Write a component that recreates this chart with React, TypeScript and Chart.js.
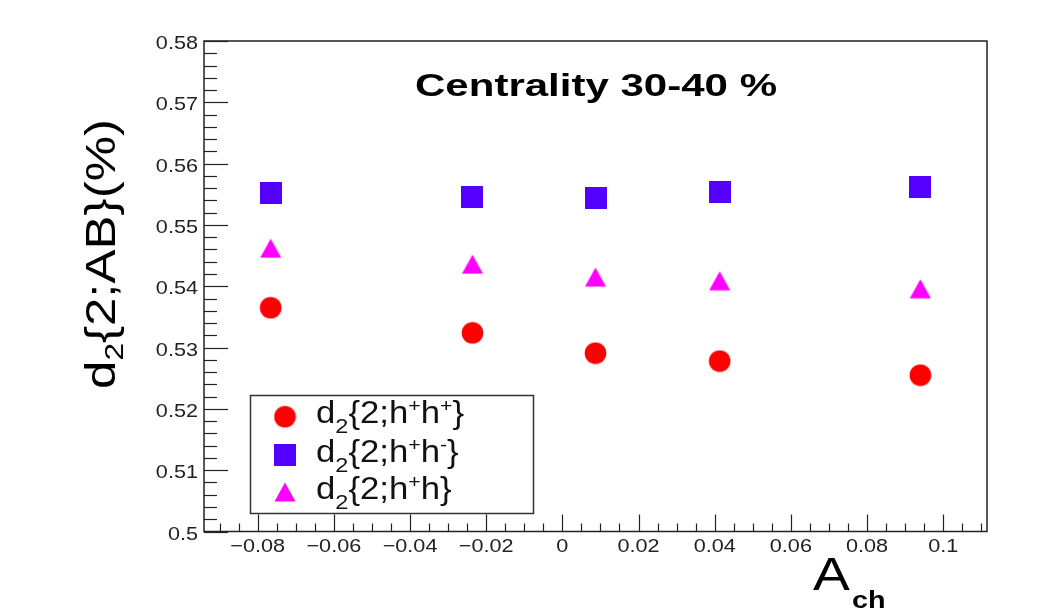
import { useEffect, useRef } from "react";
import { Chart, registerables } from "chart.js";

Chart.register(...registerables);

// ---- data ----
const aCh = [-0.0766, -0.0236, 0.0087, 0.0413, 0.094];
const d2PlusPlus = [0.5365, 0.5324, 0.5291, 0.5278, 0.5255];
const d2PlusMinus = [0.5552, 0.5546, 0.5544, 0.5554, 0.5562];
const d2PlusAll = [0.5462, 0.5436, 0.5415, 0.5409, 0.5396];

const xTickValues = [-0.08, -0.06, -0.04, -0.02, 0, 0.02, 0.04, 0.06, 0.08, 0.1];
const xTickLabels = ["−0.08", "−0.06", "−0.04", "−0.02", "0", "0.02", "0.04", "0.06", "0.08", "0.1"];
const yTickValues = [0.5, 0.51, 0.52, 0.53, 0.54, 0.55, 0.56, 0.57, 0.58];
const yTickLabels = ["0.5", "0.51", "0.52", "0.53", "0.54", "0.55", "0.56", "0.57", "0.58"];

const xMin = -0.0941;
const xMax = 0.1115;
const yMin = 0.5;
const yMax = 0.58;

const titleText = "Centrality 30-40 %";
const seriesNames = ["d2{2;h+h+}", "d2{2;h+h-}", "d2{2;h+h}"];

const COL_RED = "#ff0000";
const COL_BLUE = "#5300ff";
const COL_MAG = "#ff00ff";

const FONT = '"Liberation Sans", Arial, Helvetica, sans-serif';

type Part = { t: string; size: number; bold?: boolean; dy?: number };

function fontOf(p: Part) {
  return `${p.bold ? "bold " : ""}${p.size}px ${FONT}`;
}

function richWidth(ctx: CanvasRenderingContext2D, parts: Part[]) {
  let w = 0;
  for (const p of parts) {
    ctx.font = fontOf(p);
    w += ctx.measureText(p.t).width;
  }
  return w;
}

function drawRich(ctx: CanvasRenderingContext2D, parts: Part[], x: number, y: number, sx: number) {
  ctx.save();
  ctx.translate(x, y);
  ctx.scale(sx, 1);
  ctx.textAlign = "left";
  ctx.textBaseline = "alphabetic";
  let cx = 0;
  for (const p of parts) {
    ctx.font = fontOf(p);
    ctx.fillText(p.t, cx, p.dy || 0);
    cx += ctx.measureText(p.t).width;
  }
  ctx.restore();
}

function legendParts(i: number): Part[] {
  const M = 31;
  const base: Part[] = [
    { t: "d", size: M },
    { t: "2", size: 21, dy: 10 },
    { t: "{2;h", size: M },
    { t: "+", size: 19, dy: -11 },
  ];
  if (i === 0) return [...base, { t: "h", size: M }, { t: "+", size: 19, dy: -11 }, { t: "}", size: M }];
  if (i === 1) return [...base, { t: "h", size: M }, { t: "-", size: 19, dy: -11 }, { t: "}", size: M }];
  return [...base, { t: "h}", size: M }];
}

function makeMarker(kind: "circle" | "square" | "triangle", color: string) {
  const c = document.createElement("canvas");
  const ctx = c.getContext("2d")!;
  if (kind === "circle") {
    c.width = 23;
    c.height = 23;
    ctx.fillStyle = color;
    ctx.beginPath();
    ctx.arc(11.5, 11.5, 10.8, 0, Math.PI * 2);
    ctx.fill();
  } else if (kind === "square") {
    c.width = 22;
    c.height = 22;
    ctx.fillStyle = color;
    ctx.fillRect(0, 0, 22, 22);
  } else {
    c.width = 22;
    c.height = 20;
    ctx.fillStyle = color;
    ctx.beginPath();
    ctx.moveTo(11, 0.5);
    ctx.lineTo(21.5, 19.5);
    ctx.lineTo(0.5, 19.5);
    ctx.closePath();
    ctx.fill();
  }
  return c;
}

export default function App() {
  const ref = useRef<HTMLCanvasElement | null>(null);

  useEffect(() => {
    if (!ref.current) return;
    const mCircle = makeMarker("circle", COL_RED);
    const mSquare = makeMarker("square", COL_BLUE);
    const mTri = makeMarker("triangle", COL_MAG);
    const markers = [mCircle, mSquare, mTri];

    const rootStyle = {
      id: "rootStyle",
      afterDraw(chart: any) {
        const ctx: CanvasRenderingContext2D = chart.ctx;
        const xs = chart.scales.x;
        const ys = chart.scales.y;
        const { left, right, top, bottom } = chart.chartArea;
        ctx.save();

        // frame
        ctx.strokeStyle = "#222";
        ctx.lineWidth = 1.5;
        ctx.strokeRect(left, top, right - left, bottom - top);

        // x ticks (inside)
        ctx.lineWidth = 1.2;
        ctx.strokeStyle = "#222";
        const kx0 = Math.ceil(xMin / 0.005 - 1e-9);
        const kx1 = Math.floor(xMax / 0.005 + 1e-9);
        for (let k = kx0; k <= kx1; k++) {
          const v = k * 0.005;
          const px = Math.round(xs.getPixelForValue(v)) + 0.5;
          const len = k % 4 === 0 ? 17 : 8;
          ctx.beginPath();
          ctx.moveTo(px, bottom);
          ctx.lineTo(px, bottom - len);
          ctx.stroke();
        }
        // y ticks (inside)
        const ky0 = Math.round(yMin / 0.002);
        const ky1 = Math.round(yMax / 0.002);
        for (let k = ky0; k <= ky1; k++) {
          const v = k * 0.002;
          const py = Math.round(ys.getPixelForValue(v)) + 0.5;
          const len = k % 5 === 0 ? 24 : 13;
          ctx.beginPath();
          ctx.moveTo(left, py);
          ctx.lineTo(left + len, py);
          ctx.stroke();
        }

        // tick labels
        ctx.fillStyle = "#222";
        const tickSize = 18.5;
        const tsx = 1.17;
        ctx.font = `${tickSize}px ${FONT}`;
        xTickValues.forEach((v, i) => {
          const lab = xTickLabels[i];
          const px = xs.getPixelForValue(v);
          const w = richWidth(ctx, [{ t: lab, size: tickSize }]) * tsx;
          drawRich(ctx, [{ t: lab, size: tickSize }], px - w / 2, bottom + 20.5, tsx);
        });
        yTickValues.forEach((v, i) => {
          const lab = yTickLabels[i];
          const py = ys.getPixelForValue(v);
          const w = richWidth(ctx, [{ t: lab, size: tickSize }]) * tsx;
          drawRich(ctx, [{ t: lab, size: tickSize }], left - 6 - w, py + 8, tsx);
        });

        // title
        ctx.fillStyle = "#000";
        const tParts: Part[] = [{ t: titleText, size: 32, bold: true }];
        const tw = richWidth(ctx, tParts);
        drawRich(ctx, tParts, 415, 95.5, 362 / tw);

        // x axis title: A_ch
        drawRich(ctx, [{ t: "A", size: 46 }], 813, 590, 1.2);
        drawRich(ctx, [{ t: "ch", size: 23, bold: true }], 852, 608, 1.25);

        // y axis title: d_2{2;AB}(%)
        const yParts: Part[] = [
          { t: "d", size: 42 },
          { t: "2", size: 26, dy: 8 },
          { t: "{2;AB}(%)", size: 42 },
        ];
        const yw = richWidth(ctx, yParts);
        ctx.save();
        ctx.translate(115, 389);
        ctx.rotate(-Math.PI / 2);
        drawRich(ctx, yParts, 0, 0, 270 / yw);
        ctx.restore();

        // legend box
        ctx.fillStyle = "#fff";
        ctx.fillRect(250, 395, 283, 118);
        ctx.strokeStyle = "#333";
        ctx.lineWidth = 1.5;
        ctx.strokeRect(250.5, 395.5, 283, 118);
        const rows = [416.7, 455, 492];
        const w0 = richWidth(ctx, legendParts(0));
        const lsx = 148 / w0;
        ctx.fillStyle = "#111";
        rows.forEach((ry, i) => {
          const m = markers[i];
          ctx.drawImage(m, 285 - m.width / 2, ry - m.height / 2);
          ctx.fillStyle = "#111";
          drawRich(ctx, legendParts(i), 316, ry + 6.7, lsx);
        });

        ctx.restore();
      },
    };

    const mk = (ys: number[]) => aCh.map((x, i) => ({ x, y: ys[i] }));

    const chart = new Chart(ref.current, {
      type: "scatter",
      data: {
        datasets: [
          { label: seriesNames[0], data: mk(d2PlusPlus), pointStyle: mCircle as any, backgroundColor: COL_RED, borderColor: COL_RED },
          { label: seriesNames[1], data: mk(d2PlusMinus), pointStyle: mSquare as any, backgroundColor: COL_BLUE, borderColor: COL_BLUE },
          { label: seriesNames[2], data: mk(d2PlusAll), pointStyle: mTri as any, backgroundColor: COL_MAG, borderColor: COL_MAG },
        ],
      },
      options: {
        responsive: false,
        animation: false,
        events: [],
        devicePixelRatio: 1,
        layout: { padding: { left: 204, right: 77, top: 41, bottom: 80.5 } },
        scales: {
          x: { type: "linear", min: xMin, max: xMax, bounds: "data", display: false },
          y: { type: "linear", min: yMin, max: yMax, bounds: "data", display: false },
        },
        plugins: {
          legend: { display: false },
          tooltip: { enabled: false },
          title: { display: false },
        },
      },
      plugins: [rootStyle],
    });

    return () => chart.destroy();
  }, []);

  return (
    <div style={{ position: "fixed", left: 0, top: 0, width: 1064, height: 612, background: "#fff" }}>
      <canvas ref={ref} width={1064} height={612} style={{ display: "block", width: 1064, height: 612 }} />
    </div>
  );
}
